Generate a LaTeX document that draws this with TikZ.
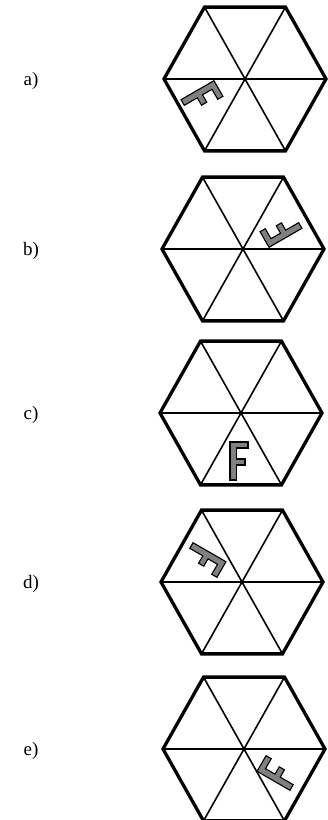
\documentclass[tikz,border=0pt]{standalone}
\usepackage{fontspec}
\setmainfont{Liberation Serif}
\usetikzlibrary{positioning}

\begin{document}
\begin{tikzpicture}[x=1pt,y=1pt,
	rim/.style={line width=3.3pt,line join=miter},
	spoke/.style={line width=1.6pt},
	letter/.style={fill=black!50,draw=black,line width=1.1pt,line join=miter},
	tag/.style={font=\fontsize{19}{22}\selectfont,inner sep=0pt}]
	\useasboundingbox (0,0) rectangle (327,820);
	\foreach \name/\cx/\cy/\fx/\fy/\rot in {a/245/741/-43/-19/-60,
		b/243/571/38/19/120, c/241/407/-2/-48/0,
		d/242/238/-37/22/-120, e/244/71/34/-24/60}{
		\node[tag] (\name) at (31,\cy-2) {\name)};
		\begin{scope}[shift={(\cx,\cy)}]
			\foreach \k in {0,...,5}
				\coordinate (\name\k) at ({81*cos(60*\k)},{83*sin(60*\k)});
			\draw[spoke] (\name0) -- (\name3) (\name1) -- (\name4) (\name2) -- (\name5);
			\draw[rim] (\name0) -- (\name1) -- (\name2) -- (\name3) -- (\name4) -- (\name5) -- cycle;
			% the letter, base toward the rim
			\draw[letter,shift={(\fx,\fy)},rotate=\rot] (-9,-19) -- (-2.5,-19) -- (-2.5,-4)
				-- (6,-4) -- (6,2) -- (-2.5,2) -- (-2.5,13) -- (9,13) -- (9,19) -- (-9,19) -- cycle;
		\end{scope}
	}
\end{tikzpicture}
\end{document}
